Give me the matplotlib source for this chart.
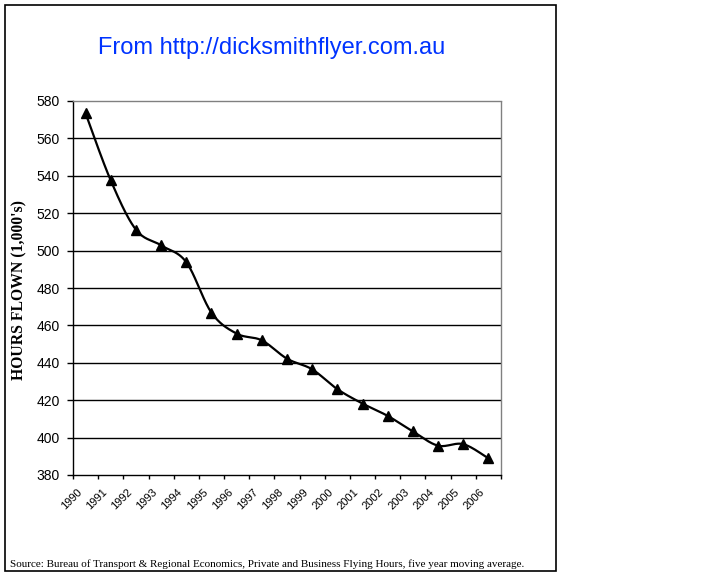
import numpy as np
import matplotlib
matplotlib.use("Agg")
import matplotlib.pyplot as plt
from matplotlib.patches import Rectangle
import matplotlib.transforms as mtransforms

years = ["1990", "1991", "1992", "1993", "1994", "1995", "1996", "1997", "1998",
         "1999", "2000", "2001", "2002", "2003", "2004", "2005", "2006"]
hours = [573.4, 537.5, 511.2, 502.8, 493.8, 466.8, 455.6, 452.0, 442.2,
         436.5, 425.9, 418.2, 411.6, 403.3, 395.7, 396.5, 388.9]
y_ticks = [380, 400, 420, 440, 460, 480, 500, 520, 540, 560, 580]

title = "From http://dicksmithflyer.com.au"
ylabel = "HOURS FLOWN (1,000's)"
source = ("Source: Bureau of Transport & Regional Economics, Private and Business "
          "Flying Hours, five year moving average.")

W, H = 720, 576
fig = plt.figure(figsize=(7.2, 5.76), dpi=100)

def fx(px):
    return px / W

def fy(py):
    return 1 - py / H

left, right, top, bottom = 73, 501, 101, 475
ax = fig.add_axes([fx(left), fy(bottom), fx(right - left), (bottom - top) / H])

x = np.arange(len(hours))
yv = np.array(hours, dtype=float)

# Excel-style smoothed line: cubic Bezier through points (Catmull-Rom control points)
def smooth_curve(xs, ys, n=30):
    px = np.concatenate([[xs[0]], xs, [xs[-1]]])
    py = np.concatenate([[ys[0]], ys, [ys[-1]]])
    out_x, out_y = [], []
    t = np.linspace(0, 1, n)
    for i in range(1, len(px) - 2):
        p0 = np.array([px[i], py[i]])
        p3 = np.array([px[i + 1], py[i + 1]])
        c1 = p0 + (np.array([px[i + 1], py[i + 1]]) - np.array([px[i - 1], py[i - 1]])) / 6
        c2 = p3 - (np.array([px[i + 2], py[i + 2]]) - np.array([px[i], py[i]])) / 6
        b = ((1 - t) ** 3)[:, None] * p0 + (3 * (1 - t) ** 2 * t)[:, None] * c1 \
            + (3 * (1 - t) * t ** 2)[:, None] * c2 + (t ** 3)[:, None] * p3
        out_x.extend(b[:, 0]); out_y.extend(b[:, 1])
    return np.array(out_x), np.array(out_y)

sx, sy = smooth_curve(x.astype(float), yv)
ax.plot(sx, sy, color="black", lw=1.6, zorder=3, solid_capstyle="round")
ax.plot(x, yv, linestyle="none", marker="^", markersize=7.5, color="black", zorder=4)

ax.set_xlim(-0.5, len(hours) - 0.5)
ax.set_ylim(380, 580)

# gridlines
for v in y_ticks[1:-1]:
    ax.axhline(v, color="black", lw=1.0, zorder=1)

ax.set_yticks(y_ticks)
ax.set_yticklabels([str(v) for v in y_ticks], family="Liberation Sans", fontsize=10)
ax.tick_params(axis="y", direction="out", length=4, width=1, pad=5.5, colors="black")

# x: major ticks at category boundaries, labels at centres
ax.set_xticks(np.arange(len(hours) + 1) - 0.5)
ax.set_xticklabels([])
ax.tick_params(axis="x", which="major", direction="out", length=3, width=1)
ax.set_xticks(x, minor=True)
ax.set_xticklabels(years, minor=True, rotation=45, ha="right", va="top",
                   rotation_mode="anchor", family="Liberation Sans", fontsize=8)
ax.tick_params(axis="x", which="minor", length=0, pad=8.5)
offset = mtransforms.ScaledTranslation(-9 / 100, 0, fig.dpi_scale_trans)
for lab in ax.get_xticklabels(minor=True):
    lab.set_transform(lab.get_transform() + offset)

for s in ["left", "bottom"]:
    ax.spines[s].set_color("black")
    ax.spines[s].set_linewidth(1.0)
for s in ["top", "right"]:
    ax.spines[s].set_color("#808080")
    ax.spines[s].set_linewidth(1.0)
    ax.spines[s].set_linestyle((0, (1, 1)))

fig.text(fx(19), fy(290), ylabel, rotation=90, ha="center", va="center",
         family="Liberation Serif", fontweight="bold", fontsize=11.3)

fig.text(fx(272), fy(54), title, ha="center", va="baseline",
         family="Liberation Sans", fontsize=17, color="#0033ff")

fig.text(fx(10), fy(567), source, ha="left", va="baseline",
         family="Liberation Serif", fontsize=8)

fig.patches.append(Rectangle((fx(5), fy(571)), fx(551), (571 - 5) / H,
                             transform=fig.transFigure, fill=False,
                             edgecolor="black", lw=1.2))

fig.savefig("out.png", dpi=100, facecolor="white")
